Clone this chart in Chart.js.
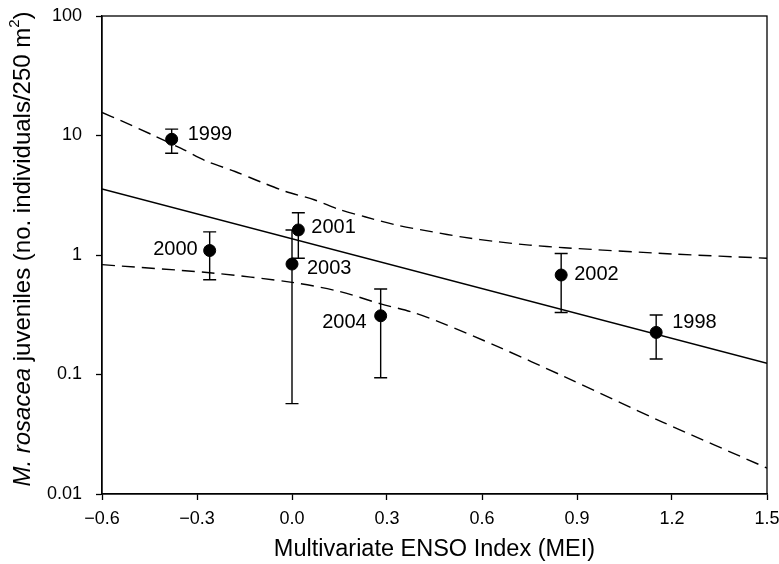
<!DOCTYPE html>
<html>
<head>
<meta charset="utf-8">
<script src="https://cdn.jsdelivr.net/npm/chart.js@4/dist/chart.umd.min.js"></script>
<style>
  body { margin: 0; background: #fff; }
  #wrap { width: 779px; height: 564px; }
</style>
</head>
<body>
<div id="wrap"><canvas id="ensoChart"></canvas></div>
<script>
// survey years and their values
const years = ["1998", "1999", "2000", "2001", "2002", "2003", "2004"];
const mei = [1.15, -0.38, -0.26, 0.02, 0.85, 0.0, 0.28];
const juveniles = [0.225, 9.3, 1.09, 1.62, 0.68, 0.84, 0.31];
const errLow = [0.135, 7.1, 0.62, 0.94, 0.33, 0.057, 0.094];
const errHigh = [0.315, 11.3, 1.56, 2.26, 1.03, 1.62, 0.52];

// regression line and confidence bands
const fitX = [-0.6, 1.5];
const fitY = [3.57, 0.124];
const upperX = [-0.6, -0.54, -0.44, -0.35, -0.27, -0.18, -0.1, -0.02, 0.07, 0.15, 0.23, 0.33, 0.44, 0.54, 0.65, 0.75, 0.86, 1.2, 1.5];
const upperY = [15.6, 13.3, 10.1, 7.8, 6.1, 5.0, 4.1, 3.4, 2.9, 2.4, 2.09, 1.78, 1.57, 1.41, 1.29, 1.21, 1.15, 1.02, 0.94];
const lowerX = [-0.6, -0.26, 0.0, 0.15, 0.28, 0.38, 0.47, 0.65, 0.86, 1.17, 1.5];
const lowerY = [0.83, 0.71, 0.59, 0.495, 0.39, 0.332, 0.272, 0.171, 0.096, 0.040, 0.0165];

const yTicks = [0.01, 0.1, 1, 10, 100];
const xTicks = [-0.6, -0.3, 0, 0.3, 0.6, 0.9, 1.2, 1.5];

const FONT = "'Liberation Sans', Arial, sans-serif";

// where each year label sits relative to its point (px)
const labelPos = {
    "1998": [16, -10, "left"],
    "1999": [16, -5, "left"],
    "2000": [-12, -1, "right"],
    "2001": [13, -2, "left"],
    "2002": [13, -1, "left"],
    "2003": [15, 4, "left"],
    "2004": [-14, 7, "right"]
};

const toXY = (xs, ys) => xs.map((x, i) => ({ x: x, y: ys[i] }));

const errorBars = {
    id: "errorBars",
    beforeDatasetsDraw(chart) {
        const { ctx, scales: { x, y } } = chart;
        ctx.save();
        ctx.strokeStyle = "#000";
        ctx.lineWidth = 1.4;
        mei.forEach((m, i) => {
            const px = x.getPixelForValue(m);
            const top = y.getPixelForValue(errHigh[i]);
            const bot = y.getPixelForValue(errLow[i]);
            ctx.beginPath();
            ctx.moveTo(px, top); ctx.lineTo(px, bot);
            ctx.moveTo(px - 6.5, top); ctx.lineTo(px + 6.5, top);
            ctx.moveTo(px - 6.5, bot); ctx.lineTo(px + 6.5, bot);
            ctx.stroke();
        });
        ctx.restore();
    }
};

const annotations = {
    id: "annotations",
    afterDraw(chart) {
        const { ctx, chartArea: a, scales: { x, y } } = chart;
        ctx.save();
        // frame on top and right
        ctx.strokeStyle = "#000";
        ctx.lineWidth = 1.3;
        ctx.strokeRect(a.left, a.top, a.right - a.left, a.bottom - a.top);

        // year labels
        ctx.fillStyle = "#000";
        ctx.font = "20px " + FONT;
        ctx.textBaseline = "middle";
        years.forEach((yr, i) => {
            const p = labelPos[yr];
            ctx.textAlign = p[2];
            ctx.fillText(yr, x.getPixelForValue(mei[i]) + p[0], y.getPixelForValue(juveniles[i]) + p[1]);
        });

        // x title
        ctx.textAlign = "center";
        ctx.font = "23.5px " + FONT;
        ctx.fillText("Multivariate ENSO Index (MEI)", (a.left + a.right) / 2, 550);

        // y title with italic species name and superscript
        const parts = [
            ["italic 24px " + FONT, "M. rosacea", 0],
            ["24px " + FONT, " juveniles (no. individuals/250 m", 0],
            ["15px " + FONT, "2", -8],
            ["24px " + FONT, ")", 0]
        ];
        let total = 0;
        parts.forEach(p => { ctx.font = p[0]; total += ctx.measureText(p[1]).width; });
        ctx.translate(23, 249);
        ctx.rotate(-Math.PI / 2);
        ctx.textAlign = "left";
        let cx = -total / 2;
        parts.forEach(p => {
            ctx.font = p[0];
            ctx.fillText(p[1], cx, p[2]);
            cx += ctx.measureText(p[1]).width;
        });
        ctx.restore();
    }
};

new Chart(document.getElementById("ensoChart"), {
    type: "scatter",
    data: {
        datasets: [
            {
                type: "line",
                data: toXY(fitX, fitY),
                borderColor: "#000",
                borderWidth: 1.4,
                pointRadius: 0
            },
            {
                type: "line",
                data: toXY(upperX, upperY),
                borderColor: "#000",
                borderWidth: 1.4,
                borderDash: [13, 7],
                tension: 0.3,
                pointRadius: 0
            },
            {
                type: "line",
                data: toXY(lowerX, lowerY),
                borderColor: "#000",
                borderWidth: 1.4,
                borderDash: [13, 7],
                tension: 0.3,
                pointRadius: 0
            },
            {
                data: toXY(mei, juveniles),
                backgroundColor: "#000",
                borderColor: "#000",
                pointRadius: 6,
                pointHoverRadius: 6
            }
        ]
    },
    options: {
        responsive: true,
        maintainAspectRatio: false,
        animation: false,
        events: [],
        layout: { padding: { top: 16, right: 12, left: 0, bottom: 0 } },
        plugins: {
            legend: { display: false },
            tooltip: { enabled: false }
        },
        scales: {
            x: {
                type: "linear",
                min: -0.6,
                max: 1.5,
                afterFit: s => { s.height = 70; s.paddingLeft = 0; s.paddingRight = 0; },
                afterBuildTicks: s => { s.ticks = xTicks.map(v => ({ value: v })); },
                border: { color: "#000", width: 1.3 },
                grid: { drawOnChartArea: false, tickLength: 6, color: "#000", tickWidth: 1.3 },
                ticks: {
                    color: "#000",
                    padding: 8,
                    font: { family: FONT, size: 18 },
                    maxRotation: 0,
                    callback: v => Math.abs(v) < 1e-9 ? "0.0" : v.toFixed(1).replace("-", "\u2212")
                }
            },
            y: {
                type: "logarithmic",
                min: 0.01,
                max: 100,
                afterFit: s => { s.width = 102; s.paddingTop = 0; s.paddingBottom = 0; },
                afterBuildTicks: s => { s.ticks = yTicks.map(v => ({ value: v })); },
                border: { color: "#000", width: 1.3 },
                grid: { drawOnChartArea: false, tickLength: 6, color: "#000", tickWidth: 1.3 },
                ticks: {
                    color: "#000",
                    padding: 14,
                    font: { family: FONT, size: 18 },
                    callback: v => String(v)
                }
            }
        }
    },
    plugins: [errorBars, annotations]
});
</script>
</body>
</html>
